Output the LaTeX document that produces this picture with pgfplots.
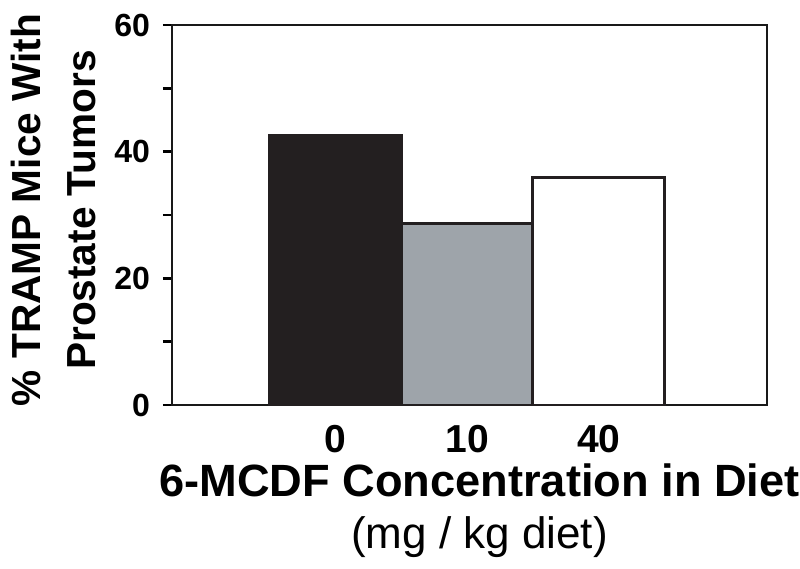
\documentclass[border=0pt]{standalone}
\usepackage{pgfplots}
\pgfplotsset{compat=1.18}
\usepackage{fontspec}
\setmainfont{Liberation Sans}
\definecolor{barblack}{RGB}{35,31,32}
\definecolor{bargray}{RGB}{158,164,170}
\begin{document}
\begin{tikzpicture}
\begin{axis}[
  scale only axis,
  width=297.5pt, height=190pt,
  xmin=-1.241, xmax=3.277,
  ymin=0, ymax=60,
  ytick={0,10,...,60},
  yticklabels={0,,20,,40,,60},
  ytick pos=left,
  xtick={0,1,2},
  xticklabels={0,10,40},
  major x tick style={draw=none},
  tick align=outside,
  ytick style={line width=1.2pt, black},
  major tick length=4.5pt,
  axis line style={line width=1.2pt, black!90},
  /pgf/number format/assume math mode=true,
  xticklabel style={font=\fontsize{19.5}{20}\selectfont\bfseries, yshift=-2pt},
  yticklabel style={font=\fontsize{16}{18}\selectfont\bfseries, xshift=-3pt},
  xlabel={{\fontsize{22.6}{26}\selectfont\bfseries 6-MCDF Concentration in Diet}\\(mg / kg diet)},
  xlabel style={align=center, yshift=1.5pt, xshift=5pt, font=\fontsize{22}{26}\selectfont},
  ylabel={\% TRAMP Mice With\\Prostate Tumors},
  ylabel style={align=center, yshift=2.5pt, xshift=2.5pt, font=\fontsize{20.3}{27.5}\selectfont\bfseries},
  ybar, bar width=1,
  bar shift=0pt,
]
\addplot[fill=barblack, draw=barblack, line width=1.5pt] coordinates {(0,42.6)};
\addplot[fill=bargray, draw=barblack, line width=1.5pt] coordinates {(1,28.7)};
\addplot[fill=white, draw=barblack, line width=1.5pt] coordinates {(2,36.0)};
\end{axis}
\pgfresetboundingbox
\path ([shift={(-86pt,-82pt)}]current axis.south west) rectangle ([shift={(16.5pt,12.5pt)}]current axis.north east);
\end{tikzpicture}
\end{document}
